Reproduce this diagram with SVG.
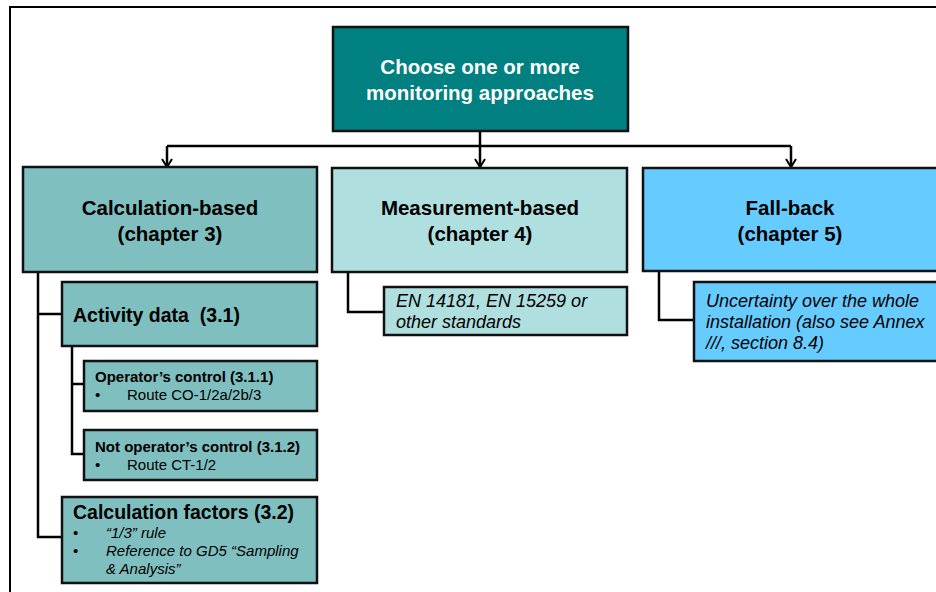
<svg xmlns="http://www.w3.org/2000/svg" width="936" height="592" viewBox="0 0 936 592">
<style>
.box{stroke:#111;stroke-width:2.5}
.c1{fill:#7fbfbf}
.c2{fill:#afdfdf}
.c3{fill:#66ccff}
.ln{fill:none;stroke:#000;stroke-width:2.5}
text{font-family:"Liberation Sans",Arial,sans-serif;fill:#000}
.h{font-weight:bold;font-size:20.5px;text-anchor:middle}
.h2{font-weight:bold;font-size:19.5px}
.h3{font-weight:bold;font-size:15px}
.r{font-size:15px}
.i{font-style:italic;font-size:15px}
.i2{font-style:italic;font-size:18px}
</style>
<defs>
<marker id="arr" markerWidth="12" markerHeight="12" refX="6" refY="10" orient="0" markerUnits="userSpaceOnUse">
<path d="M1,2 L6,10 L11,2" fill="none" stroke="#000" stroke-width="2"/>
</marker>
</defs>
<rect x="10" y="7" width="940" height="600" fill="none" stroke="#000" stroke-width="2"/>
<g id="connectors">
<path class="ln" d="M480,131 V146"/>
<path class="ln" d="M167,146 H791"/>
<path class="ln" d="M167,146 V167" marker-end="url(#arr)"/>
<path class="ln" d="M480,146 V167" marker-end="url(#arr)"/>
<path class="ln" d="M791,146 V167" marker-end="url(#arr)"/>
<path class="ln" d="M38,272 V537 H62"/>
<path class="ln" d="M38,314 H62"/>
<path class="ln" d="M72,346 V454 H84"/>
<path class="ln" d="M72,384 H84"/>
<path class="ln" d="M348,272 V312 H384"/>
<path class="ln" d="M659,271 V320 H695"/>
</g>
<g id="top">
<rect class="box" x="333" y="27" width="295" height="104" fill="#008080"/>
<text class="h" x="480" y="74" style="fill:#fff">Choose one or more</text>
<text class="h" x="480" y="100" style="fill:#fff">monitoring approaches</text>
</g>
<g id="calc">
<rect class="box c1" x="23" y="167" width="294" height="105"/>
<text class="h" x="170" y="215">Calculation-based</text>
<text class="h" x="170" y="241">(chapter 3)</text>
</g>
<g id="meas">
<rect class="box c2" x="332" y="168" width="295" height="104"/>
<text class="h" x="480" y="215">Measurement-based</text>
<text class="h" x="480" y="241">(chapter 4)</text>
</g>
<g id="fall">
<rect class="box c3" x="643" y="168" width="300" height="103"/>
<text class="h" x="790" y="215">Fall-back</text>
<text class="h" x="790" y="241">(chapter 5)</text>
</g>
<g id="activity">
<rect class="box c1" x="62" y="282" width="255" height="64"/>
<text class="h2" x="73" y="322" xml:space="preserve">Activity data  (3.1)</text>
</g>
<g id="opctrl">
<rect class="box c1" x="84" y="361" width="233" height="50"/>
<text class="h3" x="95" y="382">Operator’s control (3.1.1)</text>
<text class="r" x="95" y="400">•</text>
<text class="r" x="127" y="400">Route CO-1/2a/2b/3</text>
</g>
<g id="notopctrl">
<rect class="box c1" x="84" y="430" width="233" height="50"/>
<text class="h3" x="95" y="452">Not operator’s control (3.1.2)</text>
<text class="r" x="95" y="470">•</text>
<text class="r" x="127" y="470">Route CT-1/2</text>
</g>
<g id="calcfactors">
<rect class="box c1" x="62" y="497" width="255" height="86"/>
<text class="h2" x="73" y="519">Calculation factors (3.2)</text>
<text class="r" x="73" y="538">•</text>
<text class="i" x="106" y="538">“1/3” rule</text>
<text class="r" x="73" y="556">•</text>
<text class="i" x="106" y="556">Reference to GD5 “Sampling</text>
<text class="i" x="106" y="574">&amp; Analysis”</text>
</g>
<g id="standards">
<rect class="box c2" x="384" y="287" width="243" height="48"/>
<text class="i2" x="396" y="307">EN 14181, EN 15259 or</text>
<text class="i2" x="396" y="328">other standards</text>
</g>
<g id="uncertainty">
<rect class="box c3" x="694" y="282" width="250" height="79"/>
<text class="i2" x="706" y="307">Uncertainty over the whole</text>
<text class="i2" x="706" y="328">installation (also see Annex</text>
<text class="i2" x="706" y="349">///, section 8.4)</text>
</g>
</svg>
